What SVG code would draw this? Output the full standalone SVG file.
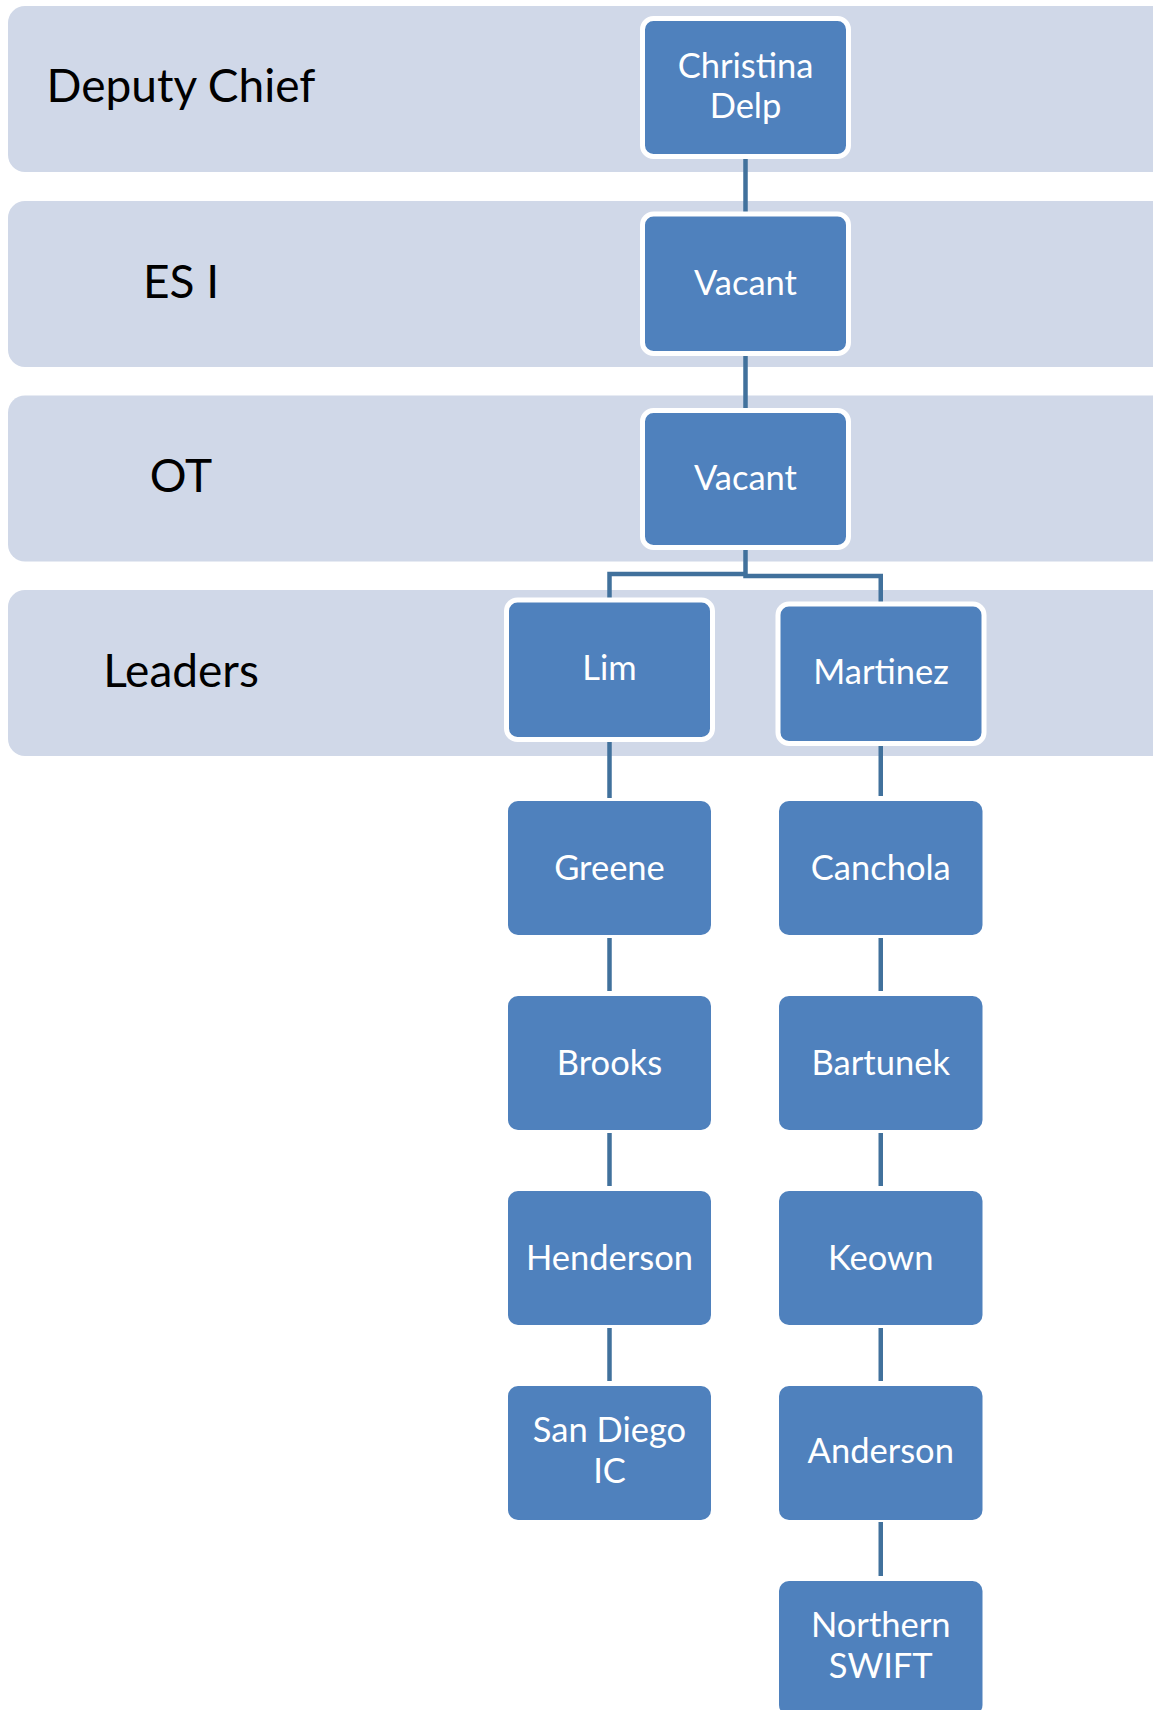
<svg xmlns="http://www.w3.org/2000/svg" width="1153" height="1710" viewBox="0 0 1153 1710">
<style>
.band{fill:#D0D8E8}
.lbl{font-family:Lato,"Liberation Sans",sans-serif;font-size:46px;fill:#000;text-anchor:middle}
.top{fill:#4F81BD;stroke:#FFFFFF;stroke-width:5}
.box{fill:#4F81BD}
.t{font-family:Lato,"Liberation Sans",sans-serif;font-size:34.5px;fill:#FFFFFF;text-anchor:middle}
.c{fill:none;stroke:#41719C;stroke-width:4.5}
</style>
<rect width="1153" height="1710" fill="#FFFFFF"/>
<g id="bands">
<g id="band-deputy"><rect class="band" x="8" y="6" width="1170" height="166" rx="17"/><text class="lbl" x="181" y="102">Deputy Chief</text></g>
<g id="band-es"><rect class="band" x="8" y="201" width="1170" height="166" rx="17"/><text class="lbl" x="181" y="298">ES I</text></g>
<g id="band-ot"><rect class="band" x="8" y="395.5" width="1170" height="166" rx="17"/><text class="lbl" x="181" y="492">OT</text></g>
<g id="band-leaders"><rect class="band" x="8" y="590" width="1170" height="166" rx="17"/><text class="lbl" x="181" y="687">Leaders</text></g>
</g>
<g id="connectors">
<line class="c" x1="745.5" y1="158" x2="745.5" y2="213"/>
<line class="c" x1="745.5" y1="354" x2="745.5" y2="409"/>
<path class="c" d="M745.5 549 V574 H609.5 V599"/>
<path class="c" d="M745.5 574 V576 H880.75 V603"/>
<line class="c" x1="609.5" y1="740" x2="609.5" y2="798"/>
<line class="c" x1="609.5" y1="938" x2="609.5" y2="991"/>
<line class="c" x1="609.5" y1="1133" x2="609.5" y2="1186"/>
<line class="c" x1="609.5" y1="1328" x2="609.5" y2="1381"/>
<line class="c" x1="880.75" y1="744" x2="880.75" y2="796"/>
<line class="c" x1="880.75" y1="938" x2="880.75" y2="991"/>
<line class="c" x1="880.75" y1="1133" x2="880.75" y2="1186"/>
<line class="c" x1="880.75" y1="1328" x2="880.75" y2="1381"/>
<line class="c" x1="880.75" y1="1522" x2="880.75" y2="1576"/>
</g>
<g id="n-delp"><rect class="top" x="642.5" y="18.5" width="206" height="138" rx="11"/><text class="t" x="745.5" y="78">Christina</text><text class="t" x="745.5" y="118">Delp</text></g>
<g id="n-vacant1"><rect class="top" x="642.5" y="214" width="206" height="139.5" rx="11"/><text class="t" x="745.5" y="295">Vacant</text></g>
<g id="n-vacant2"><rect class="top" x="642.5" y="410.5" width="206" height="137" rx="11"/><text class="t" x="745.5" y="490">Vacant</text></g>
<g id="n-lim"><rect class="top" x="506.5" y="600" width="206" height="139.5" rx="11"/><text class="t" x="609.5" y="680">Lim</text></g>
<g id="n-martinez"><rect class="top" x="778" y="604" width="206" height="139.5" rx="11"/><text class="t" x="881" y="684">Martinez</text></g>
<g id="n-greene"><rect class="box" x="508" y="801" width="203" height="134" rx="10"/><text class="t" x="609.5" y="879.5">Greene</text></g>
<g id="n-brooks"><rect class="box" x="508" y="996" width="203" height="134" rx="10"/><text class="t" x="609.5" y="1074.5">Brooks</text></g>
<g id="n-henderson"><rect class="box" x="508" y="1191" width="203" height="134" rx="10"/><text class="t" x="609.5" y="1269.5">Henderson</text></g>
<g id="n-sandiego"><rect class="box" x="508" y="1386" width="203" height="134" rx="10"/><text class="t" x="609.5" y="1442">San Diego</text><text class="t" x="609.5" y="1483">IC</text></g>
<g id="n-canchola"><rect class="box" x="779" y="801" width="203.5" height="134" rx="10"/><text class="t" x="880.75" y="879.5">Canchola</text></g>
<g id="n-bartunek"><rect class="box" x="779" y="996" width="203.5" height="134" rx="10"/><text class="t" x="880.75" y="1074.5">Bartunek</text></g>
<g id="n-keown"><rect class="box" x="779" y="1191" width="203.5" height="134" rx="10"/><text class="t" x="880.75" y="1269.5">Keown</text></g>
<g id="n-anderson"><rect class="box" x="779" y="1386" width="203.5" height="134" rx="10"/><text class="t" x="880.75" y="1463">Anderson</text></g>
<g id="n-northern"><rect class="box" x="779" y="1581" width="203.5" height="134" rx="10"/><text class="t" x="880.75" y="1637">Northern</text><text class="t" x="880.75" y="1678">SWIFT</text></g>
</svg>
